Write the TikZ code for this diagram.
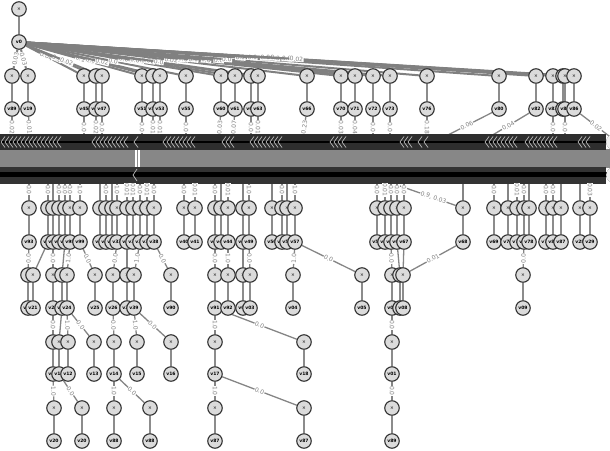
\documentclass[tikz,border=0pt]{standalone}
\usepackage{fontspec}
\setmainfont{DejaVu Sans}
\usepackage{tikz}
\usetikzlibrary{calc}

\pgfdeclarelayer{back}
\pgfsetlayers{back,main}

\tikzset{
	opnode/.style={circle, draw=black!80, line width=1.1pt, fill=black!14,
		minimum size=14.5pt, inner sep=0pt, font=\fontsize{4.5}{4.5}\selectfont},
	varnode/.style={opnode, font=\fontsize{4.5}{4.5}\selectfont\bfseries},
	link/.style={draw=black!45, line width=2.4pt},
	wire/.style={draw=black!48, line width=1.3pt},
	fan/.style={draw=black!50, line width=2pt},
	wlab/.style={font=\fontsize{6}{6}\selectfont, text=black!50, fill=white,
		inner sep=0.5pt, sloped},
	chev/.style={draw=white!72!black, line width=0.7pt},
}

\begin{document}
\begin{tikzpicture}[x=1pt, y=-1pt]

	\useasboundingbox (0,0) rectangle (610,450);

	% root
	\node[opnode] (top) at (19,9) {×};
	\node[varnode] (v0) at (19,42) {v0};
	\begin{pgfonlayer}{back}
		\draw[link] (top) -- (v0);
	\end{pgfonlayer}

	% first level
	\foreach \x/\w/\p/\v in {12/0.03/0.5/v89, 28/0.03/0.5/v19,
		84/0.04/0.4/v45, 96/0.0/0.49/v46, 102/0.02/0.59/v47,
		142/0.1/0.5/v51, 153/0.0/0.54/v52, 160/0.02/0.6/v53,
		186/0.0/0.57/v55, 221/0.04/0.53/v60, 235/0.04/0.55/v61,
		251/0.02/0.56/v62, 258/0.0/0.59/v63, 307/0.02/0.53/v66,
		341/0.0/0.51/v70, 355/0.0/0.52/v71, 373/0.0/0.53/v72,
		390/0.0/0.54/v73, 427/0.0/0.51/v76, 499/0.0/0.46/v80,
		536/0.0/0.45/v82, 553/0.0/0.46/v83, 563/0.0/0.47/v84,
		565/0.0/0.49/v85, 574/0.02/0.5/v86} {
		\node[opnode] (a\x) at (\x,76) {×};
		\node[varnode] (b\x) at (\x,109) {\v};
		\begin{pgfonlayer}{back}
			\draw[link] (a\x) -- (b\x);
			\draw[fan] (v0) -- node[wlab, pos=\p] {\w} (a\x);
		\end{pgfonlayer}
	}

	% down into the bundle
	\foreach \x/\e/\w in {12/12/0.02, 28/30/0.01, 84/84/0.0, 96/96/0.02,
		102/102/0.0, 142/142/0.0, 153/153/0.01, 160/160/0.01, 186/186/0.0,
		221/219/0.03, 235/233/0.07, 251/251/0.0, 258/258/0.01, 307/303/0.23,
		341/341/0.03, 355/355/0.04, 373/373/0.0, 390/390/0.0, 427/427/0.18,
		499/446/0.06, 536/491/0.04, 553/553/0.0, 565/565/0.0, 574/609/0.02} {
		\coordinate (s\x) at (\e,136);
		\begin{pgfonlayer}{back}
			\draw[wire] (b\x) -- node[wlab, pos=0.55] {\w} (s\x);
		\end{pgfonlayer}
	}

	% bundle
	\coordinate (farA) at (-20,142);
	\coordinate (farM) at (-20,158);
	\coordinate (farB) at (-20,175);
	\coordinate (endM) at (610,158);
	\node[opnode] (hubA) at (137,142) {};
	\node[opnode] (hubB) at (137,175) {};
	\node[opnode] (endA) at (614,142) {};
	\node[opnode] (endB) at (614,175) {};

	\draw[black!47, line width=19pt] (farM) -- (endM);
	\draw[black!82, line width=16pt] (farA) -- (endA);
	\draw[black, line width=1.8pt] (farA) -- (endA);
	\draw[black!80, line width=17pt] (farB) -- (endB);
	\draw[black, line width=5pt] ($(farB)+(0,-1)$) -- ($(endB)+(0,-1)$);
	\draw[white, line width=5pt] (hubA) -- (hubB);
	\draw[black!45, line width=1pt] (hubA) -- (hubB);

	% arrow heads in the bundle
	\foreach \x in {1,5,...,57, 92,96,...,124, 134, 163,167,...,191,
		222,226,230, 250,254,...,278, 330,334,338,342,
		400,404,408, 418,424, 485,489,...,513, 525,529,...,553, 578,582,586}
		\draw[chev] (\x+4,136.5) -- (\x,142) -- (\x+4,147.5);
	\draw[chev] (137,169) -- (133,175) -- (137,181);
	\node[opnode, fill=black!6, draw=black!6] (endC) at (614,142) {};
	\node[opnode, fill=black!6, draw=black!6] (endD) at (614,175) {};

	% second level
	\foreach \x/\v in {29/v93, 48/v94, 53/v95, 59/v96, 65/v97, 70/v98, 80/v99,
		100/v30, 106/v31, 112/v32, 117/v33, 127/v34, 133/v35, 140/v36,
		147/v37, 154/v38, 184/v40, 195/v41, 215/v42, 221/v43, 228/v44,
		243/v48, 249/v49, 272/v50, 282/v54, 287/v56, 295/v57, 377/v58,
		385/v59, 391/v64, 397/v65, 404/v67, 463/v68, 494/v69, 508/v74,
		517/v75, 524/v77, 529/v78, 546/v79, 553/v81, 561/v87, 580/v28,
		590/v29} {
		\node[opnode] (c\x) at (\x,208) {×};
		\node[varnode] (d\x) at (\x,242) {\v};
		\coordinate (t\x) at (\x,183);
		\begin{pgfonlayer}{back}
			\draw[link] (c\x) -- (d\x);
			\draw[wire] (t\x) -- (c\x);
		\end{pgfonlayer}
	}
	\foreach \x/\w in {29/0.0, 48/0.0, 59/0.0, 65/0.0, 70/0.0, 80/1.0,
		106/0.0, 117/1.0, 127/0.01, 133/0.01, 140/0.0, 147/0.01, 154/0.0,
		184/0.0, 195/0.01, 215/0.0, 228/0.01, 249/1.0, 282/0.0, 295/1.0,
		377/0.0, 385/0.01, 391/0.0, 397/0.0, 404/0.0, 494/0.0, 517/0.01,
		524/0.0, 546/0.0, 553/0.0, 590/0.03}
		\path (t\x) -- node[wlab, pos=0.4] {\w} (c\x);
	\coordinate (t400) at (400,186);
	\begin{pgfonlayer}{back}
		\draw[wire] (t400) -- node[wlab, pos=0.6] {0.9, 0.03} (c463);
	\end{pgfonlayer}

	% third level
	\foreach \x/\v in {28/v20, 33/v21, 53/v22, 62/v23, 67/v24, 95/v25,
		113/v26, 127/v27, 134/v39, 171/v90, 215/v91, 228/v92, 243/v02,
		250/v03, 293/v04, 362/v05, 392/v06, 400/v07, 403/v08, 523/v09} {
		\node[opnode] (e\x) at (\x,275) {×};
		\node[varnode] (f\x) at (\x,308) {\v};
		\begin{pgfonlayer}{back}
			\draw[link] (e\x) -- (f\x);
		\end{pgfonlayer}
	}
	\begin{pgfonlayer}{back}
		\foreach \p/\q/\w in {29/28/0.0, 53/53/0.0, 70/67/1.0, 80/95/0.0,
			117/113/0.0, 140/134/1.0, 154/171/0.0, 215/215/0.0, 228/228/1.0,
			249/250/0.0, 295/293/1.0, 295/362/0.0, 391/392/0.0, 463/403/0.01,
			524/523/0.0}
			\draw[wire] (d\p) -- node[wlab] {\w} (e\q);
		\foreach \p/\q in {48/33, 65/62, 127/127, 243/243, 397/400, 404/403}
			\draw[wire] (d\p) -- (e\q);
	\end{pgfonlayer}

	% fourth level
	\foreach \x/\v in {53/v10, 59/v11, 68/v12, 94/v13, 114/v14, 137/v15,
		171/v16, 215/v17, 304/v18, 392/v01} {
		\node[opnode] (g\x) at (\x,342) {×};
		\node[varnode] (h\x) at (\x,374) {\v};
		\begin{pgfonlayer}{back}
			\draw[link] (g\x) -- (h\x);
		\end{pgfonlayer}
	}
	\begin{pgfonlayer}{back}
		\foreach \p/\q/\w in {53/53/0.0, 67/68/1.0, 67/94/0.0, 113/114/0.0,
			134/137/1.0, 134/171/0.0, 215/215/1.0, 215/304/0.0, 392/392/0.0}
			\draw[wire] (f\p) -- node[wlab] {\w} (g\q);
		\draw[wire] (f62) -- (g59);
	\end{pgfonlayer}

	% fifth level
	\foreach \x/\v in {54/v20, 82/v20, 114/v88, 150/v88, 215/v87, 304/v87,
		392/v89} {
		\node[opnode] (i\x) at (\x,408) {×};
		\node[varnode] (j\x) at (\x,441) {\v};
		\begin{pgfonlayer}{back}
			\draw[link] (i\x) -- (j\x);
		\end{pgfonlayer}
	}
	\begin{pgfonlayer}{back}
		\foreach \p/\q/\w in {53/54/1.0, 59/82/0.0, 114/114/1.0, 114/150/0.0,
			215/215/1.0, 215/304/0.0, 392/392/0.0}
			\draw[wire] (h\p) -- node[wlab] {\w} (i\q);
	\end{pgfonlayer}

\end{tikzpicture}
\end{document}
